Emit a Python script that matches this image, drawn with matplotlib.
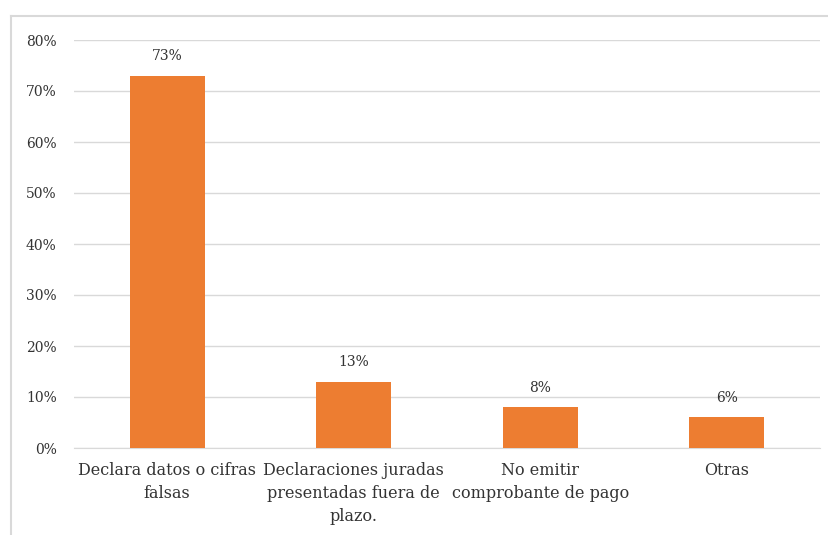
import matplotlib.pyplot as plt
from matplotlib.lines import Line2D

categories = ["Declara datos o cifras\nfalsas",
              "Declaraciones juradas\npresentadas fuera de\nplazo.",
              "No emitir\ncomprobante de pago",
              "Otras"]
values = [0.73, 0.13, 0.08, 0.06]
yticks = [0, 0.1, 0.2, 0.3, 0.4, 0.5, 0.6, 0.7, 0.8]

plt.rcParams['font.family'] = ['DejaVu Serif']
text_color = '#333333'
grid_color = '#D9D9D9'
bar_color = '#ED7D31'

fig = plt.figure(figsize=(8.29, 5.35), dpi=100)
ax = fig.add_axes([74 / 829, 1 - 448 / 535, 746 / 829, 408 / 535])

x = range(len(values))
bars = ax.bar(x, values, width=0.4, color=bar_color, zorder=3)

for xi, v in zip(x, values):
    ax.annotate(f"{round(v * 100)}%", (xi, v), xytext=(0, 9), textcoords='offset points',
                ha='center', va='bottom', fontsize=10, color=text_color)

ax.set_xlim(-0.5, len(values) - 0.5)
ax.set_ylim(0, 0.8)
ax.set_yticks(yticks)
ax.set_yticklabels([f"{round(t * 100)}%" for t in yticks], fontsize=10, color=text_color)
ax.set_xticks(list(x))
ax.set_xticklabels(categories, fontsize=11.5, color=text_color, linespacing=1.45)
ax.tick_params(axis='both', length=0)
ax.tick_params(axis='y', pad=12.5)
ax.tick_params(axis='x', pad=10)
ax.grid(axis='y', color=grid_color, linewidth=1, zorder=0)
for s in ['left', 'right', 'top']:
    ax.spines[s].set_visible(False)
ax.spines['bottom'].set_color(grid_color)

# chart border (left and top edges visible)
fig.add_artist(Line2D([11.5 / 829, 11.5 / 829], [0, 1 - 15.5 / 535], color=grid_color, lw=1.5))
fig.add_artist(Line2D([11.5 / 829, 1], [1 - 15.5 / 535, 1 - 15.5 / 535], color=grid_color, lw=1.5))

fig.savefig('out.png', dpi=100)
